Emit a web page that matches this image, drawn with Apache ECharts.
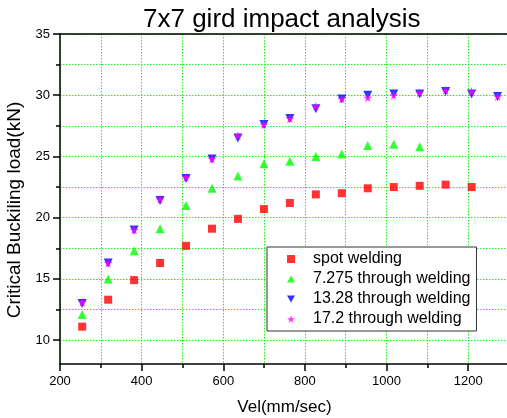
<!DOCTYPE html>
<html><head><meta charset="utf-8">
<script src="https://cdn.jsdelivr.net/npm/echarts@6/dist/echarts.min.js"></script>
<style>html,body{margin:0;padding:0;background:#fff}#c{width:507px;height:418px}</style>
</head><body><div id="c"></div>
<script>
// ---- data ----
const velocities = [254.4, 318, 381.6, 445.2, 508.8, 572.4, 636, 699.6, 763.2, 826.8, 890.4, 954, 1017.6, 1081.2, 1144.8, 1208.4, 1272];
const spotWelding = [11.1, 13.3, 14.9, 16.3, 17.7, 19.1, 19.9, 20.7, 21.2, 21.9, 22.0, 22.4, 22.5, 22.6, 22.7, 22.5];
const through7275 = [12.1, 15.0, 17.3, 19.1, 21.0, 22.4, 23.4, 24.4, 24.6, 25.0, 25.2, 25.9, 26.0, 25.8];
const through1328 = [13.0, 16.3, 19.0, 21.4, 23.2, 24.8, 26.5, 27.6, 28.1, 28.9, 29.7, 30.0, 30.1, 30.1, 30.3, 30.1, 29.9];
const through172 = [13.1, 16.3, 19.0, 21.5, 23.3, 24.8, 26.7, 27.6, 28.1, 29.1, 29.7, 29.8, 30.0, 30.2, 30.4, 30.3, 29.9];
const seriesNames = ['spot welding', '7.275 through welding', '13.28 through welding', '17.2 through welding'];
const yTickLabels = [10, 15, 20, 25, 30, 35];
const yMinorTicks = [12.5, 17.5, 22.5, 27.5, 32.5];

const FONT = 'Arial, "Liberation Sans", sans-serif';
const pair = vals => vals.map((v, i) => [velocities[i], v]);
const gridLine = { show: true, lineStyle: { color: '#22ee22', width: 1, type: [1.5, 1.5] } };
const axisLineStyle = { color: '#000', width: 1.5 };
const STAR = 'path://M50,0 L61,35 L98,35 L68,57 L79,91 L50,70 L21,91 L32,57 L2,35 L39,35 Z';
const DOWN_TRI = 'path://M0,0 L10,0 L5,9 Z';
const UP_TRI = 'path://M5,0 L10,9 L0,9 Z';
const SQUARE = 'path://M0,0 L10,0 L10,10 L0,10 Z';

const chart = echarts.init(document.getElementById('c'), null, { renderer: 'canvas' });
chart.setOption({
  animation: false,
  backgroundColor: '#fff',
  textStyle: { fontFamily: FONT },
  title: {
    text: '7x7 gird impact analysis',
    left: 138, top: 2,
    textStyle: { fontSize: 26, fontWeight: 'normal', color: '#000', fontFamily: FONT }
  },
  grid: { left: 60, top: 34, right: -2, bottom: 54, containLabel: false, outerBoundsMode: 'none' },
  legend: {
    orient: 'vertical', left: 267, top: 247,
    padding: [2, 6, 2, 20], itemWidth: 8, itemHeight: 8, itemGap: 0,
    borderColor: '#333', borderWidth: 1, backgroundColor: '#fff',
    textStyle: { fontSize: 16, lineHeight: 20, color: '#000', fontFamily: FONT, padding: [0, 0, 0, 13] },
    data: seriesNames
  },
  xAxis: [{
    type: 'value', position: 'bottom', min: 200, max: 1300, interval: 200,
    name: 'Vel(mm/sec)', nameLocation: 'middle', nameGap: 35,
    nameTextStyle: { fontSize: 17, color: '#000', fontFamily: FONT },
    axisLine: { show: true, onZero: false, lineStyle: axisLineStyle },
    axisTick: { show: true, length: 7, lineStyle: axisLineStyle },
    minorTick: { show: true, splitNumber: 2, length: 4, lineStyle: axisLineStyle },
    axisLabel: { fontSize: 13, color: '#000', margin: 11, fontFamily: FONT, showMaxLabel: false,
      formatter: v => String(v) },
    splitLine: gridLine,
    minorSplitLine: gridLine
  }, {
    type: 'value', position: 'top', min: 200, max: 1300,
    axisLine: { show: true, onZero: false, lineStyle: axisLineStyle },
    axisTick: { show: false }, axisLabel: { show: false }, splitLine: { show: false }
  }],
  yAxis: [{
    type: 'value', position: 'left', min: 8.05, max: 35,
    name: 'Critical Buckiling load(kN)', nameLocation: 'middle', nameGap: 36,
    nameTextStyle: { fontSize: 19, color: '#000', fontFamily: FONT, padding: [0, 22, 0, 0] },
    axisLine: { show: true, onZero: false, lineStyle: axisLineStyle },
    axisTick: { show: true, length: 7, lineStyle: axisLineStyle, customValues: yTickLabels },
    axisLabel: { fontSize: 13, color: '#000', margin: 10, fontFamily: FONT, customValues: yTickLabels },
    splitLine: gridLine
  }, {
    type: 'value', position: 'right', offset: -449, min: 8.05, max: 35,
    axisLine: { show: false },
    axisTick: { show: true, inside: true, length: 4, lineStyle: axisLineStyle, customValues: yMinorTicks },
    axisLabel: { show: false, customValues: yMinorTicks },
    splitLine: gridLine
  }],
  series: [{
    name: seriesNames[0], type: 'scatter', data: pair(spotWelding),
    symbol: SQUARE, symbolSize: 8, itemStyle: { color: '#ff0000' }
  }, {
    name: seriesNames[1], type: 'scatter', data: pair(through7275),
    symbol: UP_TRI, symbolSize: 9, itemStyle: { color: '#00ff00' }
  }, {
    name: seriesNames[2], type: 'scatter', data: pair(through1328),
    symbol: DOWN_TRI, symbolSize: 9, itemStyle: { color: '#0000ff' }
  }, {
    name: seriesNames[3], type: 'scatter', data: pair(through172),
    symbol: STAR, symbolSize: 9, itemStyle: { color: '#ff00ff' }
  }]
});
</script></body></html>
